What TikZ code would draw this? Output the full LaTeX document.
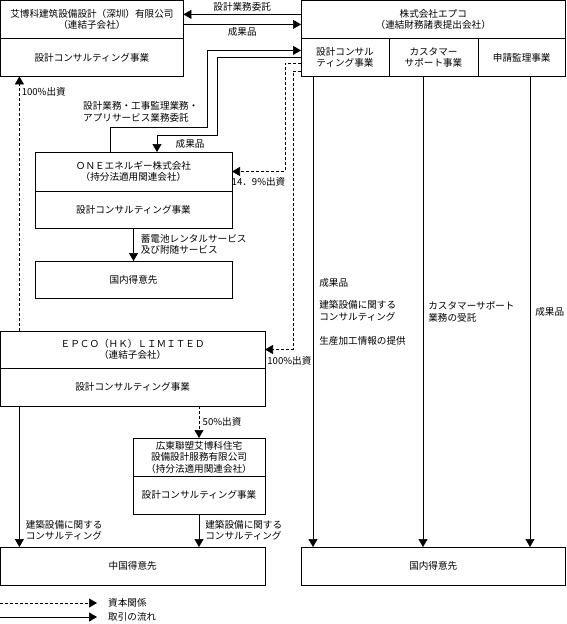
\documentclass[tikz,border=0pt]{standalone}
\usepackage{fontspec}
\newfontfamily\jpfam{Noto Sans CJK JP}
\usetikzlibrary{positioning,calc,arrows.meta}

\begin{document}
\begin{tikzpicture}[
        x=1pt, y=-1pt,
        every node/.style={font=\jpfam\fontsize{9.6}{11.5}\selectfont},
        cell/.style={rectangle, draw=black, line width=0.7pt, inner sep=0pt, outer sep=0pt, align=center, anchor=north west},
        tag/.style={inner sep=2pt, align=left},
        trade/.style={-{Triangle[width=9pt,length=8pt]}, line width=0.7pt, draw=black},
        capital/.style={trade, dash pattern=on 3pt off 2pt}
        ]

        \useasboundingbox (0,0) rectangle (566,624);

        % Companies and business segments
        \node[cell, minimum width=183pt, minimum height=38pt] (szh) at (0.4,0.4) {艾博科建筑設備設計（深圳）有限公司\\（連結子会社）};
        \node[cell, minimum width=183pt, minimum height=38pt] (szhbiz) at (szh.south west) {設計コンサルティング事業};

        \node[cell, minimum width=264.5pt, minimum height=38pt] (epco) at (301,0.4) {株式会社エプコ\\（連結財務諸表提出会社）};
        \node[cell, minimum width=88pt, minimum height=38pt] (dc) at (epco.south west) {設計コンサル\\ティング事業};
        \node[cell, minimum width=89pt, minimum height=38pt] (cs) at (dc.north east) {カスタマー\\サポート事業};
        \node[cell, minimum width=87.5pt, minimum height=38pt] (sk) at (cs.north east) {申請監理事業};

        \node[cell, minimum width=197pt, minimum height=39pt] (one) at (35,152) {ＯＮＥエネルギー株式会社\\（持分法適用関連会社）};
        \node[cell, minimum width=197pt, minimum height=37pt] (onebiz) at (one.south west) {設計コンサルティング事業};
        \node[cell, minimum width=197pt, minimum height=37pt] (onecust) at (35,261) {国内得意先};

        \node[cell, minimum width=264.6pt, minimum height=37pt] (hk) at (0.4,331) {ＥＰＣＯ（ＨＫ）ＬＩＭＩＴＥＤ\\（連結子会社）};
        \node[cell, minimum width=264.6pt, minimum height=38pt] (hkbiz) at (hk.south west) {設計コンサルティング事業};

        \node[cell, minimum width=132pt, minimum height=38pt] (gd) at (133,438) {広東聯塑艾博科住宅\\設備設計服務有限公司\\（持分法適用関連会社）};
        \node[cell, minimum width=132pt, minimum height=38pt] (gdbiz) at (gd.south west) {設計コンサルティング事業};

        \node[cell, minimum width=264.6pt, minimum height=38pt] (cncust) at (0.4,547) {中国得意先};
        \node[cell, minimum width=264.5pt, minimum height=38pt] (jpcust) at (301,547) {国内得意先};

        % Flows between Shenzhen and EPCO
        \draw[trade] ([yshift=-14pt]epco.north west) -- node[above=3pt, inner sep=0pt] {設計業務委託} ([yshift=-14pt]szh.north east);
        \draw[trade] ([yshift=-24pt]szh.north east) -- node[below=3pt, inner sep=0pt] {成果品} ([yshift=-24pt]epco.north west);

        % Flows between ONE and EPCO
        \draw[trade] ([xshift=75pt]one.north west) -- ++(0,-25) -- ++(97,0) |- ([yshift=-12pt]dc.north west);
        \node[tag, anchor=west, inner sep=0pt] (entrust) at (83,112) {設計業務・工事監理業務・\\アプリサービス業務委託};
        \draw[trade] ([yshift=-19pt]dc.north west) -- ++(-84,0) -- ++(0,78) -| ([xshift=122pt]one.north west) node[pos=0.75, right=15pt] {成果品};

        % Capital relations
        \draw[capital] ([yshift=-25pt]dc.north west) -- ++(-16,0) |- (one.east) node[pos=0.75, below=2pt] {14．9\%出資};
        \draw[capital] ([yshift=-33pt]dc.north west) -- ++(-8,0) |- (hk.east) node[pos=1, anchor=north west, inner sep=2pt, yshift=-5pt] {100\%出資};
        \draw[capital] ([xshift=19pt]hk.north west) -- node[pos=0.94, right, inner sep=2pt] {100\%出資} ([xshift=19pt]szhbiz.south west);
        \draw[capital] (hkbiz.south -| gd.north) -- node[right] {50\%出資} (gd.north);

        % Trade flows to customers
        \draw[trade] (onebiz.south) -- node[tag, right, xshift=5pt] {蓄電池レンタルサービス\\及び附随サービス} (onecust.north);
        \draw[trade] ([xshift=19pt]hkbiz.south west) -- node[tag, pos=0.88, right, xshift=4pt] {建築設備に関する\\コンサルティング} ([xshift=19pt]cncust.north west);
        \draw[trade] (gdbiz.south) -- node[tag, right, xshift=4pt] {建築設備に関する\\コンサルティング} (gdbiz.south |- cncust.north);
        \draw[trade] ([xshift=12pt]dc.south west) -- node[tag, right, xshift=4pt] {成果品\\[11pt]建築設備に関する\\コンサルティング\\[13pt]生産加工情報の提供} ([xshift=12pt]jpcust.north west);
        \draw[trade] ([xshift=34pt]cs.south west) -- node[tag, right, xshift=3pt] {カスタマーサポート\\業務の受託} ([xshift=122pt]jpcust.north west);
        \draw[trade] ([xshift=52pt]sk.south west) -- node[tag, right, xshift=3pt] {成果品} ([xshift=229pt]jpcust.north west);

        % Legend
        \node[anchor=west, inner sep=0pt] (legcap) at (108,603) {資本関係};
        \node[anchor=west, inner sep=0pt] (legtrade) at (108,617) {取引の流れ};
        \coordinate (legcapstart) at (0,603);
        \coordinate (legtradestart) at (0,617);
        \draw[capital] (legcapstart) -- ([xshift=-11pt]legcap.west);
        \draw[trade] (legtradestart) -- ([xshift=-11pt]legtrade.west);

\end{tikzpicture}
\end{document}
